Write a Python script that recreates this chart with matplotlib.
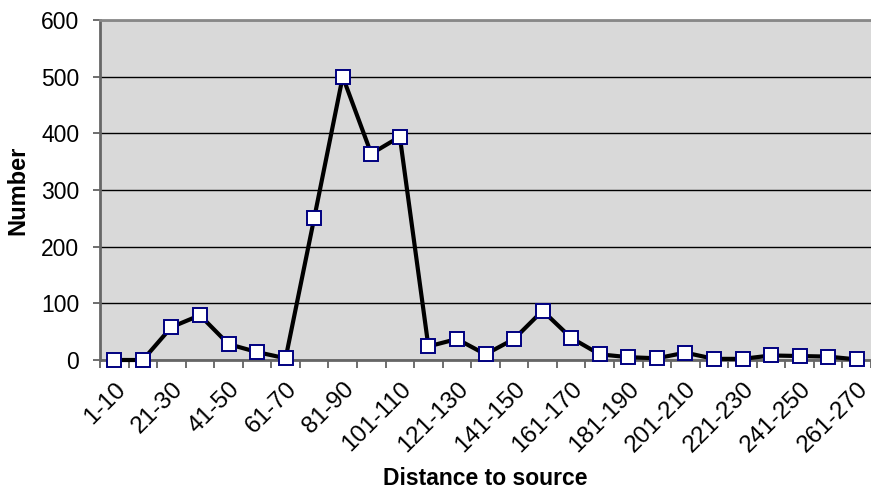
import matplotlib
matplotlib.use("Agg")
import matplotlib.pyplot as plt
import matplotlib.transforms as mtransforms
import numpy as np

categories = ["1-10", "11-20", "21-30", "31-40", "41-50", "51-60", "61-70", "71-80",
              "81-90", "91-100", "101-110", "111-120", "121-130", "131-140", "141-150",
              "151-160", "161-170", "171-180", "181-190", "191-200", "201-210", "211-220",
              "221-230", "231-240", "241-250", "251-260", "261-270"]
values = [0, 0, 58, 79, 28, 14, 3, 250, 500, 364, 394, 24, 37, 10, 37,
          87, 39, 10, 5, 3, 13, 2, 2, 8, 7, 6, 1]
yticks = [0, 100, 200, 300, 400, 500, 600]

plt.rcParams['font.family'] = ['Liberation Sans', 'DejaVu Sans']

fig = plt.figure(figsize=(8.71, 4.91), dpi=100)
ax = fig.add_axes([100/871, 131/491, 771/871, 340/491])
ax.set_facecolor('#D9D9D9')

x = np.arange(len(categories))
ax.plot(x, values, color='black', lw=3, marker='s', markersize=9.5,
        markerfacecolor='white', markeredgecolor='#000080', markeredgewidth=1.4, zorder=3,
        clip_on=False)

ax.set_xlim(-0.5, len(categories) - 0.5)
ax.set_ylim(0, 600)
ax.set_yticks(yticks)
ax.yaxis.grid(True, color='black', lw=1)
ax.set_axisbelow(True)

ax.set_xticks(x[::2])
ax.set_xticklabels(categories[::2], rotation=45, ha='right', rotation_mode='anchor', fontsize=17.5)
shift = mtransforms.ScaledTranslation(1/100, 0, fig.dpi_scale_trans)
for lbl in ax.get_xticklabels():
    lbl.set_transform(lbl.get_transform() + shift)
ax.set_xticks(np.arange(-0.5, len(categories)), minor=True)
ax.tick_params(axis='x', which='major', length=0, pad=13)
ax.tick_params(axis='x', which='minor', length=5.5, width=1.2, color='#555555')
ax.tick_params(axis='y', length=5, width=1.2, color='#555555', labelsize=16.5, pad=10)

ax.spines['right'].set_visible(False)
ax.spines['top'].set_color('#888888')
ax.spines['top'].set_linewidth(2)
for s in ['left', 'bottom']:
    ax.spines[s].set_color('#666666')
    ax.spines[s].set_linewidth(2)

ax.set_ylabel('Number', fontsize=17, fontweight='bold', labelpad=8)
ax.set_xlabel('Distance to source', fontsize=16.5, fontweight='bold', labelpad=7)

fig.savefig('out.png', dpi=100)
